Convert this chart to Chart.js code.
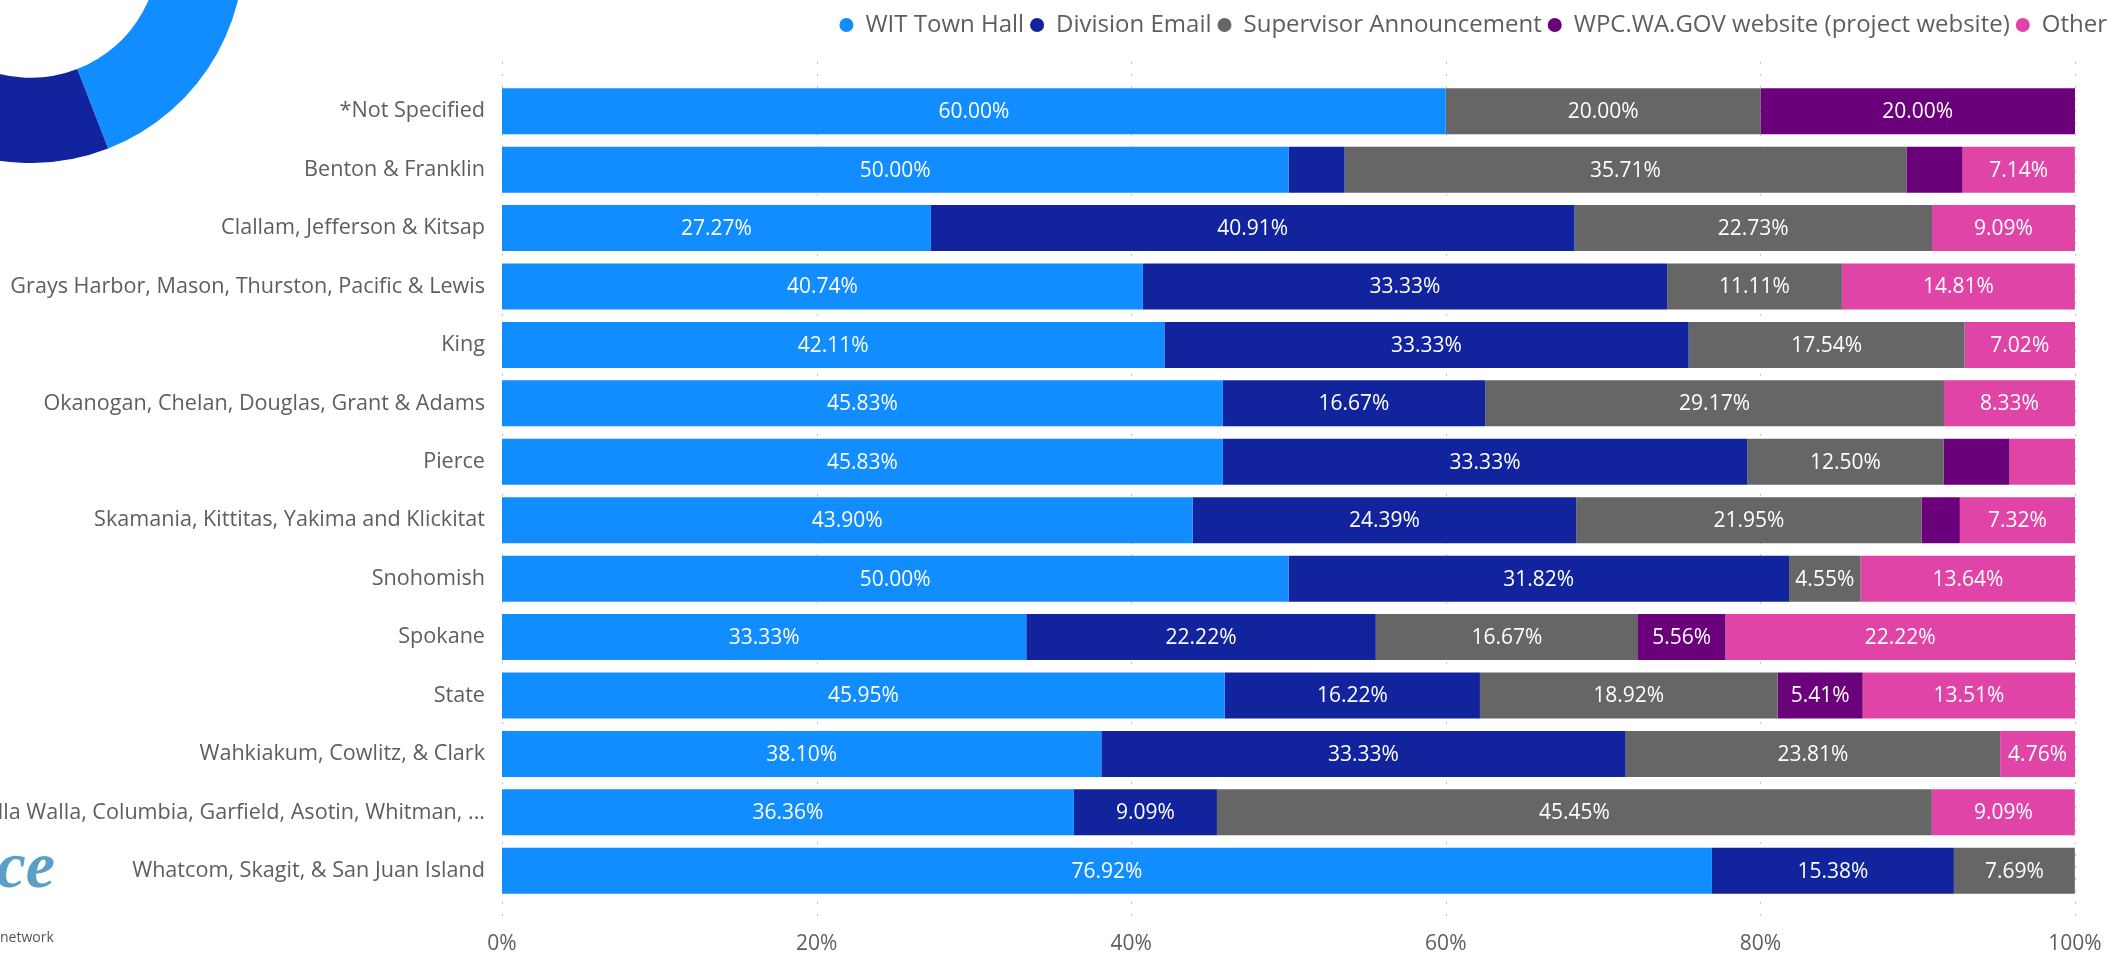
<!DOCTYPE html>
<html lang="en">
<head>
  <meta charset="UTF-8">
  <title>How did you hear about it - by region</title>
  <style>
    html, body {
      margin: 0;
      padding: 0;
      background: #fff;
      overflow: hidden;
    }

    body {
      position: relative;
      width: 2113px;
      height: 959px;
      font-family: 'Segoe UI', 'Open Sans', sans-serif;
    }

    #bar-wrap {
      position: absolute;
      left: 0;
      top: 0;
      width: 2113px;
      height: 959px;
    }

    #donut {
      position: absolute;
      left: -182px;
      top: -263px;
    }

    .logo {
      position: absolute;
      left: -445px;
      width: 500px;
      top: 832px;
      text-align: right;
      font-family: 'Liberation Serif', serif;
      font-style: italic;
      font-weight: bold;
      font-size: 66px;
      line-height: 1;
      color: #5a9fc6;
    }

    .network {
      position: absolute;
      left: 0;
      top: 927px;
      font-size: 14px;
      color: #555;
    }
  </style>
</head>
<body>
  <div id="bar-wrap"><canvas id="regions"></canvas></div>
  <canvas id="donut" width="426" height="426"></canvas>
  <div class="logo">Workforce</div>
  <div class="network">network</div>

  <script src="https://cdn.jsdelivr.net/npm/chart.js"></script>
  <script>
    // categories
    const regions = [
      '*Not Specified',
      'Benton & Franklin',
      'Clallam, Jefferson & Kitsap',
      'Grays Harbor, Mason, Thurston, Pacific & Lewis',
      'King',
      'Okanogan, Chelan, Douglas, Grant & Adams',
      'Pierce',
      'Skamania, Kittitas, Yakima and Klickitat',
      'Snohomish',
      'Spokane',
      'State',
      'Wahkiakum, Cowlitz, & Clark',
      'Walla Walla, Columbia, Garfield, Asotin, Whitman, ...',
      'Whatcom, Skagit, & San Juan Island'
    ];

    const channels = ['WIT Town Hall', 'Division Email', 'Supervisor Announcement', 'WPC.WA.GOV website (project website)', 'Other'];
    const channelColors = ['#118DFF', '#12239E', '#666666', '#6B007B', '#E044A7'];

    // percent of responses per region
    const witTownHall = [60.00, 50.00, 27.27, 40.74, 42.11, 45.83, 45.83, 43.90, 50.00, 33.33, 45.95, 38.10, 36.36, 76.92];
    const divisionEmail = [0, 3.57, 40.91, 33.33, 33.33, 16.67, 33.33, 24.39, 31.82, 22.22, 16.22, 33.33, 9.09, 15.38];
    const supervisorAnnouncement = [20.00, 35.71, 22.73, 11.11, 17.54, 29.17, 12.50, 21.95, 4.55, 16.67, 18.92, 23.81, 45.45, 7.69];
    const wpcWebsite = [20.00, 3.57, 0, 0, 0, 0, 4.17, 2.44, 0, 5.56, 5.41, 0, 0, 0];
    const other = [0, 7.14, 9.09, 14.81, 7.02, 8.33, 4.17, 7.32, 13.64, 22.22, 13.51, 4.76, 9.09, 0];

    // overall share (donut, mostly off screen)
    const overallShare = [44.1, 26.5, 19.6, 3.3, 6.5];

    const xTicks = [0, 20, 40, 60, 80, 100];

    Chart.defaults.font.family = "'Segoe UI', 'Open Sans', sans-serif";

    // legend takes the whole strip above the bars
    const legendSpacer = {
      id: 'legendSpacer',
      beforeInit(chart) {
        const fit = chart.legend.fit;
        chart.legend.fit = function () {
          fit.call(this);
          this.height = 75;
        };
      }
    };

    // dotted vertical grid lines, a bit longer than the plot
    const dottedGrid = {
      id: 'dottedGrid',
      beforeDatasetsDraw(chart) {
        const { ctx, chartArea, scales: { x } } = chart;
        ctx.save();
        ctx.strokeStyle = '#c8c8c8';
        ctx.lineWidth = 1;
        ctx.setLineDash([2, 10]);
        xTicks.forEach(t => {
          const px = Math.round(x.getPixelForValue(t)) + 0.5;
          ctx.beginPath();
          ctx.moveTo(px, chartArea.top - 20);
          ctx.lineTo(px, chartArea.bottom + 20);
          ctx.stroke();
        });
        ctx.restore();
      }
    };

    // value labels inside segments, hidden when they don't fit
    const barLabels = {
      id: 'barLabels',
      afterDatasetsDraw(chart) {
        const ctx = chart.ctx;
        ctx.save();
        ctx.font = "21px 'Segoe UI', 'Open Sans', sans-serif";
        ctx.fillStyle = '#ffffff';
        ctx.textAlign = 'center';
        ctx.textBaseline = 'middle';
        chart.data.datasets.forEach((ds, i) => {
          chart.getDatasetMeta(i).data.forEach((bar, j) => {
            const v = ds.data[j];
            if (!v) return;
            const txt = v.toFixed(2) + '%';
            const w = Math.abs(bar.x - bar.base);
            if (w < ctx.measureText(txt).width + 12) return;
            ctx.fillText(txt, (bar.x + bar.base) / 2, bar.y + 1);
          });
        });
        ctx.restore();
      }
    };

    const seriesValues = [witTownHall, divisionEmail, supervisorAnnouncement, wpcWebsite, other];

    const regionsChart = new Chart(document.getElementById('regions'), {
      type: 'bar',
      data: {
        labels: regions,
        datasets: channels.map((name, i) => ({
          label: name,
          data: seriesValues[i],
          backgroundColor: channelColors[i],
          borderWidth: 0,
          barPercentage: 0.787,
          categoryPercentage: 1
        }))
      },
      options: {
        indexAxis: 'y',
        responsive: true,
        maintainAspectRatio: false,
        animation: false,
        layout: {
          padding: { left: 0, right: 0, top: 7, bottom: 0 }
        },
        scales: {
          x: {
            stacked: true,
            min: 0,
            max: 100,
            afterBuildTicks: scale => {
              scale.ticks = xTicks.map(v => ({ value: v }));
            },
            ticks: {
              callback: v => v + '%',
              color: '#605E5C',
              font: { size: 21 },
              padding: 31,
              maxRotation: 0
            },
            grid: { display: false, drawTicks: false },
            border: { display: false },
            afterFit: scale => {
              scale.height = 59;
              scale.paddingLeft = 0;
              scale.paddingRight = 38;
            }
          },
          y: {
            stacked: true,
            ticks: {
              color: '#605E5C',
              font: { size: 21.6 },
              padding: 17,
              autoSkip: false
            },
            grid: { display: false, drawTicks: false },
            border: { display: false },
            afterFit: scale => { scale.width = 502; }
          }
        },
        plugins: {
          legend: {
            position: 'top',
            align: 'end',
            labels: {
              usePointStyle: true,
              pointStyle: 'circle',
              boxHeight: 10,
              pointStyleWidth: 14,
              padding: 6,
              color: '#605E5C',
              font: { size: 24 }
            }
          },
          tooltip: { enabled: false }
        }
      },
      plugins: [legendSpacer, dottedGrid, barLabels]
    });

    const donutChart = new Chart(document.getElementById('donut'), {
      type: 'doughnut',
      data: {
        labels: channels,
        datasets: [{
          data: overallShare,
          backgroundColor: channelColors,
          borderWidth: 0
        }]
      },
      options: {
        responsive: false,
        animation: false,
        cutout: '60%',
        plugins: {
          legend: { display: false },
          tooltip: { enabled: false }
        }
      }
    });
  </script>
</body>
</html>
